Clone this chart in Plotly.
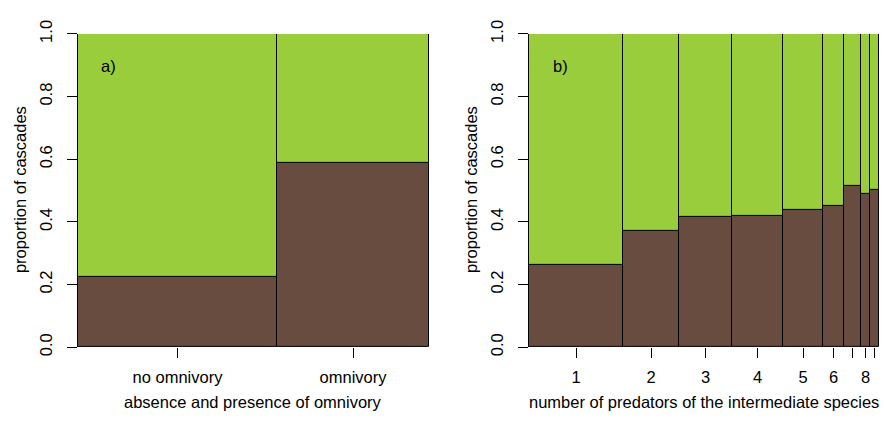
import plotly.graph_objects as go
import numpy as np

# ---- data ----
cat_a = ["no omnivory", "omnivory"]
width_a = [199, 152]
prop_a = [0.226, 0.589]

cat_b = ["1", "2", "3", "4", "5", "6", "7", "8", "9"]
label_b = ["1", "2", "3", "4", "5", "6", "", "8", ""]
width_b = [94, 56, 53, 51, 40, 21, 17, 9, 9]
prop_b = [0.263, 0.372, 0.417, 0.419, 0.437, 0.451, 0.514, 0.489, 0.502]

yticks = [0.0, 0.2, 0.4, 0.6, 0.8, 1.0]
ytick_text = ["0.0", "0.2", "0.4", "0.6", "0.8", "1.0"]

BROWN = "#684C40"
GREEN = "#9ACD3C"
FONT = "Liberation Sans, Arial, sans-serif"
FS = 16.5
W, H = 884, 432

fig = go.Figure()


def add_panel(widths, props, xa, ya):
    widths = np.array(widths, dtype=float)
    props = np.array(props, dtype=float)
    left = np.concatenate([[0], np.cumsum(widths)[:-1]])
    centers = left + widths / 2
    fig.add_trace(go.Bar(x=centers, y=props, base=0, width=widths,
                         marker=dict(color=BROWN, line=dict(color="black", width=1)),
                         xaxis=xa, yaxis=ya, showlegend=False, hoverinfo="skip"))
    fig.add_trace(go.Bar(x=centers, y=1 - props, base=props, width=widths,
                         marker=dict(color=GREEN, line=dict(color="black", width=1)),
                         xaxis=xa, yaxis=ya, showlegend=False, hoverinfo="skip"))
    return centers, widths.sum()


ca, ta = add_panel(width_a, prop_a, "x", "y")
cb, tb = add_panel(width_b, prop_b, "x2", "y2")

ydom = [1 - 352 / H, 1 - 21 / H]
xdom_a = [78 / W, 429 / W]
xdom_b = [529 / W, 879 / W]

common_x = dict(showgrid=False, zeroline=False, showline=False, ticks="outside",
                ticklen=10, tickcolor="black", tickwidth=1,
                tickfont=dict(family=FONT, size=FS, color="black"),
                ticklabelstandoff=5, fixedrange=True)
common_y = dict(showgrid=False, zeroline=False, showline=True, linecolor="black",
                ticks="outside", ticklen=10, tickcolor="black", tickwidth=1,
                tickvals=yticks, ticktext=ytick_text, tickangle=-90,
                ticklabelstandoff=8,
                tickfont=dict(family=FONT, size=FS, color="black"),
                range=[0, 1], domain=ydom, fixedrange=True)

fig.update_layout(
    width=W, height=H,
    margin=dict(l=0, r=0, t=0, b=0),
    paper_bgcolor="white", plot_bgcolor="white",
    barmode="overlay", bargap=0,
    font=dict(family=FONT, size=FS, color="black"),
    xaxis=dict(common_x, domain=xdom_a, range=[0, ta], tickvals=list(ca),
               ticktext=cat_a, anchor="y"),
    yaxis=dict(common_y, anchor="x"),
    xaxis2=dict(common_x, domain=xdom_b, range=[0, tb], tickvals=list(cb),
                ticktext=label_b, anchor="y2"),
    yaxis2=dict(common_y, anchor="x2"),
)

ann = [
    dict(text="a)", x=108 / W, y=1 - 55 / H),
    dict(text="b)", x=560 / W, y=1 - 55 / H),
    dict(text="absence and presence of omnivory", x=(78 + 429) / 2 / W, y=1 - 410 / H),
    dict(text="number of predators of the intermediate species", x=(529 + 879) / 2 / W, y=1 - 410 / H),
    dict(text="proportion of cascades", x=20 / W, y=1 - 186 / H, textangle=-90),
    dict(text="proportion of cascades", x=(20 + 451) / W, y=1 - 186 / H, textangle=-90),
]
for a in ann:
    fig.add_annotation(xref="paper", yref="paper", showarrow=False,
                       xanchor="center", yanchor="middle",
                       font=dict(family=FONT, size=FS, color="black"), **a)

fig.write_html("out.html")
